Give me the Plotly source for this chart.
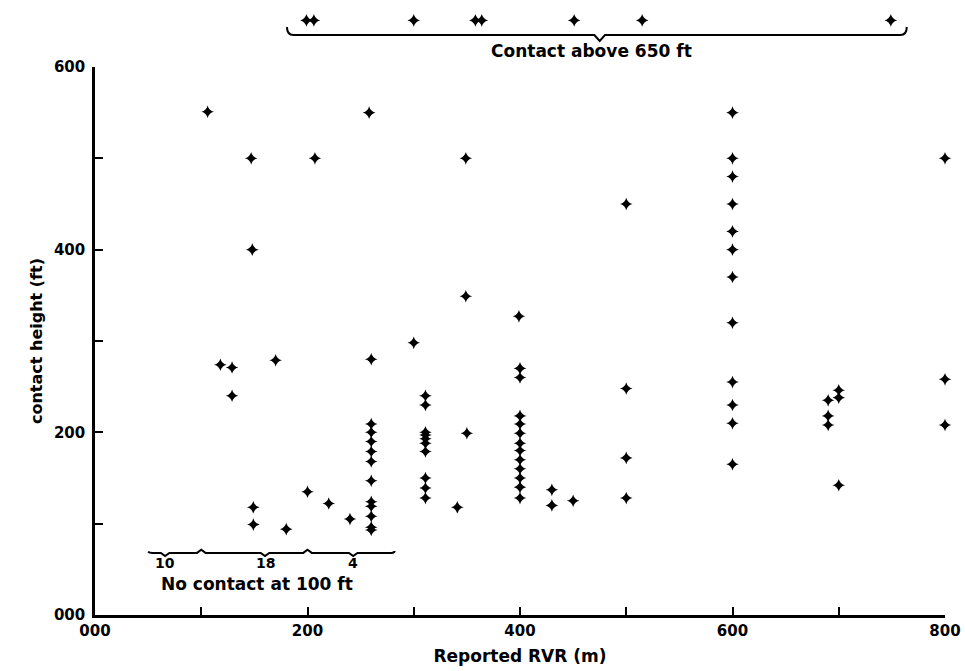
import plotly.graph_objects as go

# Reported RVR (m) and contact height (ft) for each approach
rvr = [106, 147, 148, 118, 129, 129, 170, 149, 149, 180, 200, 220, 240,
       258, 260, 260, 260, 260, 260, 260, 260, 260, 260, 260, 260, 260,
       300, 207,
       311, 311, 311, 311, 311, 311, 311, 311, 311, 311,
       341, 349, 349, 350,
       399, 400, 400, 400, 400, 400, 400, 400, 400, 400, 400, 400, 400,
       430, 430, 450,
       500, 500, 500, 500,
       600, 600, 600, 600, 600, 600, 600, 600, 600, 600, 600, 600,
       690, 690, 690, 700, 700, 700,
       800, 800, 800]
height = [551, 500, 400, 274, 271, 240, 279, 118, 99, 94, 135, 122, 105,
          550, 280, 209, 200, 190, 179, 168, 147, 124, 119, 108, 96, 93,
          298, 500,
          240, 230, 200, 197, 193, 188, 179, 150, 139, 128,
          118, 500, 349, 199,
          327, 270, 260, 218, 209, 199, 188, 180, 170, 160, 150, 140, 128,
          137, 120, 125,
          450, 248, 172, 128,
          550, 500, 480, 450, 420, 400, 370, 320, 255, 230, 210, 165,
          235, 218, 208, 246, 238, 142,
          500, 258, 208]

# Approaches with contact above 650 ft, drawn in a strip above the frame
above_rvr = [199, 206, 300, 358, 364, 451, 515, 749]
above_height = [651] * len(above_rvr)

# Approaches with no contact at 100 ft: RVR position and count
nocontact_rvr = [66, 160, 243]
nocontact_count = ["10", "18", "4"]

x_ticks = [0, 100, 200, 300, 400, 500, 600, 700, 800]
x_ticktext = ["000", "", "200", "", "400", "", "600", "", "800"]
y_ticks = [0, 100, 200, 300, 400, 500, 600]
y_ticktext = ["000", "", "200", "", "400", "", "600"]

FONT = "DejaVu Sans"
W, H = 965, 671
TOP, BOTTOM = 10, 56
plot_h = H - TOP - BOTTOM               # pixel height of the whole plot area
frame_h = 548                           # pixel height of the 0-600 ft frame
main_top = frame_h / plot_h             # paper fraction of the frame top
px_per_ft = frame_h / 600.0


def paper_y(px):
    """Paper fraction for a pixel row measured from the top of the page."""
    return (H - BOTTOM - px) / plot_h


def font(size, bold=True):
    return dict(family=FONT, size=size, color="black",
                weight="bold" if bold else "normal")


strip_lo = 0.93
y2_range = [(plot_h * strip_lo) / px_per_ft, plot_h / px_per_ft]

mark = dict(symbol="star-diamond", size=9, color="black", line=dict(width=0))

fig = go.Figure()
fig.add_trace(go.Scatter(x=rvr, y=height, mode="markers", marker=mark,
                         cliponaxis=False, showlegend=False))
fig.add_trace(go.Scatter(x=above_rvr, y=above_height, mode="markers",
                         marker=mark, yaxis="y2", cliponaxis=False,
                         showlegend=False))

# brace under the "above 650 ft" points
bl, br, mid = 180.7, 764, 475
yb, ye, yn = paper_y(35), paper_y(27), paper_y(41)
fig.add_shape(type="path", xref="x", yref="paper",
              path=(f"M {bl},{ye} Q {bl},{yb} {bl+6},{yb} L {mid-5},{yb} "
                    f"L {mid},{yn} L {mid+5},{yb} L {br-6},{yb} "
                    f"Q {br},{yb} {br},{ye}"),
              line=dict(color="black", width=2))
fig.add_annotation(x=467, y=paper_y(51), xref="x", yref="paper",
                   yanchor="middle", text="Contact above 650 ft",
                   showarrow=False, font=font(17))

# baseline for the "no contact" counts
base = 68
segs = [f"M 50,{base + 1.5} Q 51,{base} 54,{base}"]
for r, d in [(66, -3.5), (100, 3.5), (160, -3.5), (200, 3.5), (243, -3.5)]:
    segs.append(f"L {r-4},{base} L {r},{base + d} L {r+4},{base}")
segs.append(f"L 279,{base} Q 282,{base} 282,{base + 2}")
fig.add_shape(type="path", xref="x", yref="y", path=" ".join(segs),
              line=dict(color="black", width=2))
for r, c in zip(nocontact_rvr, nocontact_count):
    fig.add_annotation(x=r, y=57, xref="x", yref="y", text=c, showarrow=False,
                       font=font(14))
fig.add_annotation(x=60, y=34, xref="x", yref="y", xanchor="left",
                   text="No contact at 100 ft", showarrow=False,
                   font=font(17))

axis_common = dict(showgrid=False, zeroline=False, showline=True,
                   linecolor="black", linewidth=2.5, ticks="inside",
                   ticklen=8, tickwidth=2, tickcolor="black",
                   tickfont=font(15), automargin=False)

fig.update_xaxes(range=[0, 800], tickvals=x_ticks, ticktext=x_ticktext,
                 title=dict(text="Reported RVR (m)", standoff=12,
                            font=font(17)),
                 **axis_common)
fig.update_yaxes(range=[0, 600], tickvals=y_ticks, ticktext=y_ticktext,
                 domain=[0, main_top], ticklabelstandoff=4,
                 title=dict(text="contact height (ft)", standoff=8,
                            font=font(16)),
                 **axis_common)

fig.update_layout(width=W, height=H, autosize=False,
                  margin=dict(l=95, r=20, t=TOP, b=BOTTOM),
                  plot_bgcolor="white", paper_bgcolor="white",
                  font=dict(family=FONT, color="black"),
                  yaxis2=dict(domain=[strip_lo, 1], range=y2_range,
                              anchor="x", visible=False, showgrid=False,
                              zeroline=False, automargin=False))

fig.write_html("out.html")
